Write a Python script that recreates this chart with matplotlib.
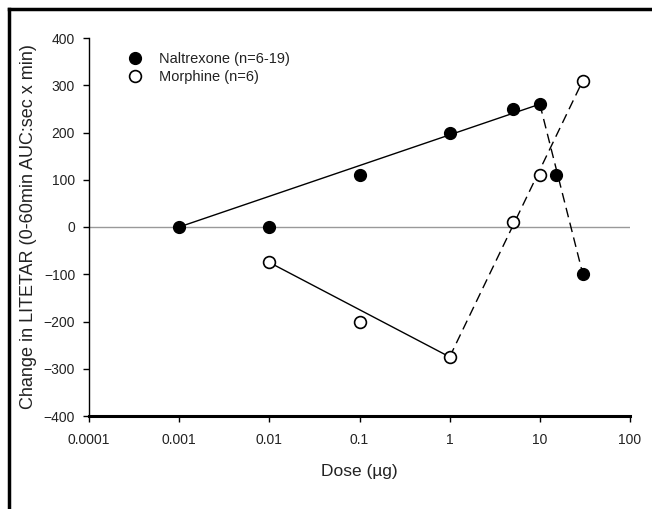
import matplotlib
matplotlib.use("Agg")
import matplotlib.pyplot as plt
from matplotlib.lines import Line2D

plt.rcParams['font.family'] = ['Liberation Sans', 'DejaVu Sans']

# Naltrexone (filled circles)
nal_dose = [0.001, 0.01, 0.1, 1, 5, 10, 15, 30]
nal_change = [0, 0, 110, 200, 250, 260, 110, -100]
nal_fit_dose = [0.001, 10]
nal_fit_change = [0, 260]
nal_drop_dose = [10, 30]
nal_drop_change = [260, -100]

# Morphine (open circles)
mor_dose = [0.01, 0.1, 1, 5, 10, 30]
mor_change = [-75, -200, -275, 10, 110, 310]
mor_fit_dose = [0.01, 1]
mor_fit_change = [-75, -275]
mor_rise_dose = [1, 30]
mor_rise_change = [-275, 310]

xticks = [0.0001, 0.001, 0.01, 0.1, 1, 10, 100]
xticklabels = ['0.0001', '0.001', '0.01', '0.1', '1', '10', '100']
yticks = [-400, -300, -200, -100, 0, 100, 200, 300, 400]

txt = '#222222'

fig = plt.figure(figsize=(6.52, 5.09), dpi=100)
ax = fig.add_axes([89/652, 1-416/509, (630-89)/652, (416-38)/509])

ax.plot([1e-4, 100], [0, 0], color='#999999', lw=1.0, zorder=1)

ax.plot(nal_fit_dose, nal_fit_change, color='black', lw=1.0, zorder=2)
ax.plot(nal_drop_dose, nal_drop_change, color='black', lw=1.0, ls=(0, (7, 4)), zorder=2)
ax.plot(mor_fit_dose, mor_fit_change, color='black', lw=1.0, zorder=2)
ax.plot(mor_rise_dose, mor_rise_change, color='black', lw=1.0, ls=(0, (7, 4)), zorder=2)

ax.plot(nal_dose, nal_change, 'o', ms=8.5, mfc='black', mec='black', ls='none',
        label='Naltrexone (n=6-19)', zorder=3)
ax.plot(mor_dose, mor_change, 'o', ms=8.5, mfc='white', mec='black', mew=1.2, ls='none',
        label='Morphine (n=6)', zorder=3)

ax.set_xscale('log')
ax.set_xlim(1e-4, 100)
ax.set_ylim(-400, 400)
ax.set_xticks(xticks)
ax.set_xticklabels(xticklabels)
ax.minorticks_off()
ax.set_yticks(yticks)

ax.spines['top'].set_visible(False)
ax.spines['right'].set_visible(False)
ax.spines['bottom'].set_linewidth(2.2)
ax.spines['left'].set_linewidth(1.0)
ax.tick_params(axis='both', direction='out', length=4, width=1, labelsize=10,
               colors='black', labelcolor=txt)
ax.tick_params(axis='x', pad=8)
ax.tick_params(axis='y', pad=6)

ax.set_xlabel('Dose (\u00b5g)', fontsize=12.5, color=txt, va='center')
ax.xaxis.set_label_coords(0.5, -0.148)
ax.set_ylabel('Change in LITETAR (0-60min AUC:sec x min)', fontsize=13, color=txt,
              va='center')
ax.yaxis.set_label_coords(-0.111, 0.5)

leg = ax.legend(loc='upper left', bbox_to_anchor=(0.048, 0.997), frameon=False, fontsize=10.5,
                handletextpad=1.15, labelspacing=0.25, handlelength=1.0)
for t in leg.get_texts():
    t.set_color(txt)

# frame around the figure (left and top edges visible)
fig.add_artist(Line2D([9/652, 9/652], [0, 1-9/509], color='black', lw=2.5))
fig.add_artist(Line2D([9/652, 1], [1-9/509, 1-9/509], color='black', lw=2.5))

fig.savefig('out.png', dpi=100)
